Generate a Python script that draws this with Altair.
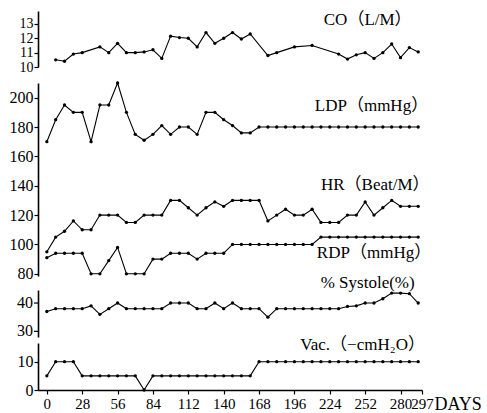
import altair as alt
import pandas as pd

# Weekly observation days
days = list(range(0, 295, 7))

# Cardiac output (L/M); some weeks were not measured
co_days = [7, 14, 21, 28, 42, 49, 56, 63, 70, 77, 84, 91, 98, 105, 112, 119, 126,
           133, 140, 147, 154, 161, 175, 182, 196, 210, 231, 238, 245, 252, 259,
           266, 273, 280, 287, 294]
co_vals = [10.5, 10.4, 10.9, 11.0, 11.4, 11.0, 11.65, 11.0, 11.0, 11.05, 11.2, 10.6,
           12.15, 12.05, 12.0, 11.4, 12.4, 11.65, 12.0, 12.4, 11.95, 12.3, 10.8, 11.0,
           11.4, 11.5, 10.9, 10.55, 10.85, 11.0, 10.6, 11.0, 11.6, 10.65, 11.35, 11.05]

# Left drive pressure (mmHg)
ldp = [170, 185, 195, 190, 190, 170, 195, 195, 210, 190, 175, 171, 175, 181, 175,
       180, 180, 175, 190, 190, 185, 181, 176, 176, 180] + [180] * 18

# Heart rate (beats/min)
hr = [95, 105, 109, 116, 110, 110, 120, 120, 120, 115, 115, 120, 120, 120, 130,
      130, 125, 120, 125, 129, 126, 130, 130, 130, 130, 116, 120, 124, 120, 120,
      124, 115, 115, 115, 120, 120, 129, 120, 125, 130, 126, 126, 126]

# Right drive pressure (mmHg)
rdp = [91, 94, 94, 94, 94, 80, 80, 89, 98, 80, 80, 80, 90, 90, 94, 94, 94, 90,
       94, 94, 94, 100] + [100] * 9 + [105] * 12

# % Systole
systole = [37, 38, 38, 38, 38, 39, 36, 38, 40, 38, 38, 38, 38, 38, 40, 40, 40, 38,
           38, 40, 38, 40, 38, 38, 38, 35] + [38] * 8 + [38.8, 39, 40, 40, 41.5,
           43.5, 43.5, 43.3, 40]

# Drive vacuum (-cmH2O)
vac = [5, 10, 10, 10] + [5] * 7 + [0] + [5] * 12 + [10] * 19

x_ticks = [0, 28, 56, 84, 112, 140, 168, 196, 224, 252, 280, 297]
sys_ticks = [30, 40]

FONT = "Liberation Serif"
LABEL_FONT = "Liberation Serif, Noto Sans CJK JP"
W = 384
X_MIN = -7
x_scale = alt.Scale(domain=[X_MIN, 297], nice=False, zero=False)


def y_axis(values, size=16):
    return alt.Axis(values=values, tickCount=len(values), title=None, grid=False,
                    format="d", domainColor="black", domainWidth=1.6,
                    tickColor="black", tickSize=4, tickWidth=1.2, labelFont=FONT,
                    labelFontSize=size, labelColor="black", labelPadding=1,
                    labelOverlap=False, labelBound=False)


def trace(xs, ys, y_scale, axis, x_axis=None):
    df = pd.DataFrame({"day": xs, "value": ys})
    base = alt.Chart(df).encode(
        x=alt.X("day:Q", scale=x_scale, axis=x_axis),
        y=alt.Y("value:Q", scale=y_scale, axis=axis),
    )
    return (base.mark_line(color="black", strokeWidth=1.1)
            + base.mark_point(filled=True, color="black", size=11, opacity=1))


def label(day, value, text, y_scale, axis, x_axis=None, size=17, dy=0):
    df = pd.DataFrame({"day": [day], "value": [value], "text": [text]})
    return alt.Chart(df).mark_text(
        font=LABEL_FONT, fontSize=size, color="black",
        align="center", baseline="middle", dy=dy
    ).encode(
        x=alt.X("day:Q", scale=x_scale, axis=x_axis),
        y=alt.Y("value:Q", scale=y_scale, axis=axis),
        text="text:N",
    )


def drawn_ticks(values, y_scale, axis):
    """Tick marks and labels drawn as marks on the left edge of a panel."""
    df = pd.DataFrame({"day": [X_MIN] * len(values), "value": values,
                       "text": [str(v) for v in values]})
    base = alt.Chart(df).encode(
        x=alt.X("day:Q", scale=x_scale, axis=None),
        y=alt.Y("value:Q", scale=y_scale, axis=axis),
    )
    ticks = base.mark_rule(color="black", strokeWidth=1.2, xOffset=-4,
                           x2Offset=0).encode(x2="day:Q")
    texts = base.mark_text(font=FONT, fontSize=16, color="black", align="right",
                           baseline="middle", dx=-5).encode(text="text:N")
    return ticks + texts


# Cardiac output panel
co_scale = alt.Scale(domain=[10, 13.9], nice=False, zero=False)
co_axis = y_axis([10, 11, 12, 13], size=14)
co_panel = alt.layer(
    trace(co_days, co_vals, co_scale, co_axis),
    label(254, 13.25, "CO（L/M）", co_scale, co_axis),
).properties(width=W, height=56)

# Pressure / heart-rate panel; the % Systole caption hangs just below it
bp_scale = alt.Scale(domain=[78.5, 210], nice=False, zero=False)
bp_axis = y_axis([80, 100, 120, 140, 160, 180, 200])
bp_panel = alt.layer(
    trace(days, ldp, bp_scale, bp_axis),
    trace(days, hr, bp_scale, bp_axis),
    trace(days, rdp, bp_scale, bp_axis),
    label(257, 194.2, "LDP（mmHg）", bp_scale, bp_axis),
    label(260, 140.4, "HR（Beat/M）", bp_scale, bp_axis),
    label(259, 94, "RDP（mmHg）", bp_scale, bp_axis),
    label(254, 78.5, "% Systole(%)", bp_scale, bp_axis, dy=7),
).properties(width=W, height=193)

# % Systole panel: the axis keeps its line, ticks and labels are drawn as marks
sys_scale = alt.Scale(domain=[28, 44.6], nice=False, zero=False)
sys_axis = alt.Axis(values=[], title=None, grid=False, domainColor="black",
                    domainWidth=1.6, ticks=False, labels=False)
sys_panel = alt.layer(
    trace(days, systole, sys_scale, sys_axis),
    drawn_ticks(sys_ticks, sys_scale, sys_axis),
).properties(width=W, height=47)

# Vacuum panel with the shared day axis
vac_scale = alt.Scale(domain=[0, 16.6], nice=False, zero=False)
vac_axis = y_axis([0, 10])
x_axis = alt.Axis(values=x_ticks, title="DAYS", grid=False, format="d",
                  domainColor="black", domainWidth=1.6, tickColor="black",
                  tickSize=4, tickWidth=1.2, labelFont=FONT, labelFontSize=15,
                  labelColor="black", labelPadding=2, labelFlush=False,
                  labelOverlap=False, titleFont=FONT, titleFontSize=18,
                  titleFontWeight="normal", titleColor="black", titleAlign="left",
                  titleBaseline="middle", titleX=396, titleY=14)
vac_panel = alt.layer(
    trace(days, vac, vac_scale, vac_axis, x_axis=x_axis),
    label(250, 15.9, "Vac.（−cmH₂O）", vac_scale, vac_axis, x_axis=x_axis),
).properties(width=W, height=47)

lower = alt.vconcat(sys_panel, vac_panel, spacing=6, bounds="flush")
middle = alt.vconcat(bp_panel, lower, spacing=14, bounds="flush")
chart = alt.vconcat(co_panel, middle, spacing=16, bounds="flush").properties(
    padding={"left": 9, "top": 11, "right": 0, "bottom": 0}
).configure_view(stroke=None)

chart.save("out.html", embed_options={"renderer": "svg", "actions": False})
